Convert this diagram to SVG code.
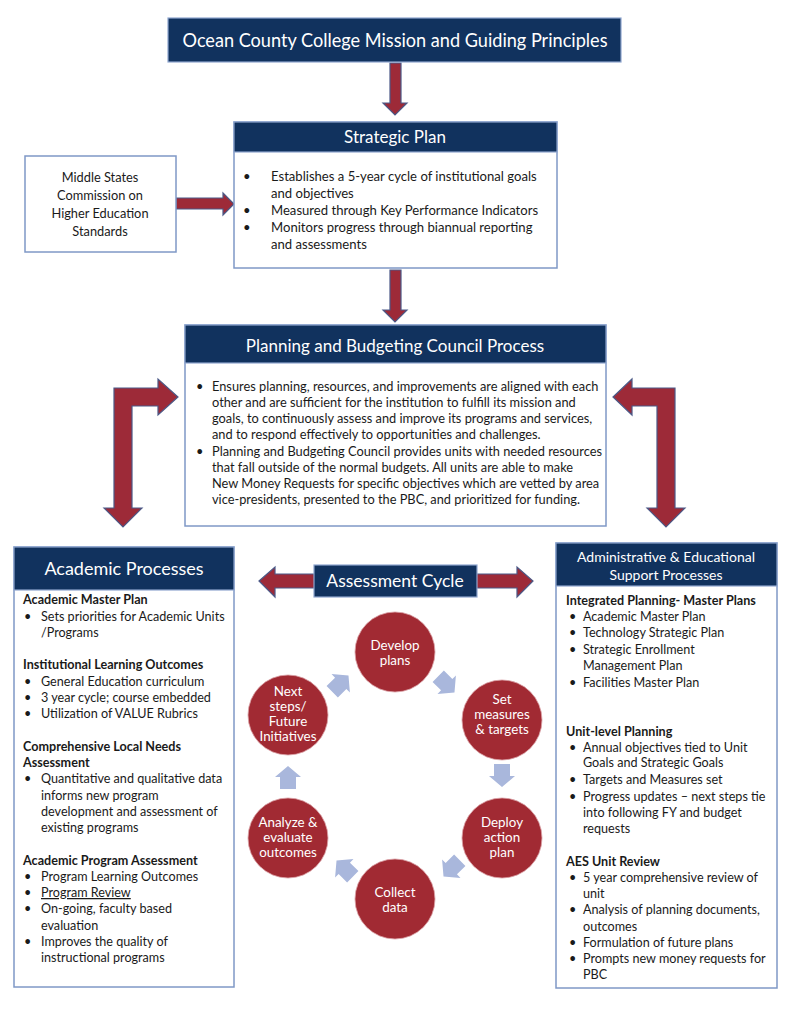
<svg xmlns="http://www.w3.org/2000/svg" width="791" height="1024" viewBox="0 0 791 1024">
<style>
text{font-family:Lato,"Liberation Sans",sans-serif;fill:#1a1a1a}
.hdr{fill:#11325e;stroke:#8fa6cf;stroke-width:1.2}
.box{fill:#fff;stroke:#7f98c6;stroke-width:1.5}
.ttl{fill:#fff;font-size:17px;text-anchor:middle}
.t{font-size:12.6px}
.p{font-size:12.8px}
.b{font-size:12.6px;font-weight:bold}
.sp{font-size:13.1px}
.ms{font-size:12.8px}
.ct{fill:#fff;font-size:13.4px;text-anchor:middle}
.red{fill:#9d2a38;stroke:#4b5987;stroke-width:1.2}
.circ{fill:#a12a33;stroke:#d9a0a4;stroke-width:0.8}
.blu{fill:#a9b7dc}
</style>
<defs>
<path id="sa" d="M0,-12 L13,-1 L8,-1 L8,11 L-8,11 L-8,-1 L-13,-1 Z"/>
</defs>

<g id="connectors">
<path class="red" d="M390,63 L401,63 L401,103 L407,103 L395,115 L383,103 L390,103 Z"/>
<path class="red" d="M176,198 L223,198 L223,193 L234,204 L223,215 L223,209 L176,209 Z"/>
<path class="red" d="M390,270 L401,270 L401,310 L407,310 L395,322 L383,310 L390,310 Z"/>
<path class="red" d="M114,388 L158,388 L158,379 L178,397 L158,415 L158,406 L132,406 L132,508 L142,508 L123,527 L104,508 L114,508 Z"/>
<path class="red" d="M675,388 L632,388 L632,379 L613,397 L632,415 L632,406 L657,406 L657,508 L647,508 L666,527 L685,508 L675,508 Z"/>
<path class="red" d="M259,581 L275,567 L275,574 L517,574 L517,567 L533,581 L517,597 L517,588 L275,588 L275,597 Z"/>
<use href="#sa" class="blu" transform="translate(340,684) rotate(45)"/>
<use href="#sa" class="blu" transform="translate(446,684) rotate(135)"/>
<use href="#sa" class="blu" transform="translate(502,775) rotate(180)"/>
<use href="#sa" class="blu" transform="translate(452,868) rotate(225)"/>
<use href="#sa" class="blu" transform="translate(345,869) rotate(315)"/>
<use href="#sa" class="blu" transform="translate(288,778)"/>
</g>

<g id="mission">
<rect class="hdr" x="168" y="18" width="453" height="44"/>
<text class="ttl" x="395" y="47" style="font-size:18.5px" textLength="425" lengthAdjust="spacingAndGlyphs">Ocean County College Mission and Guiding Principles</text>
</g>

<g id="middle-states">
<rect class="box" x="25" y="156" width="151" height="96"/>
<text class="ms" x="100" y="182" text-anchor="middle">Middle States</text>
<text class="ms" x="100" y="200" text-anchor="middle">Commission on</text>
<text class="ms" x="100" y="218" text-anchor="middle">Higher Education</text>
<text class="ms" x="100" y="236" text-anchor="middle">Standards</text>
</g>

<g id="strategic-plan">
<rect class="box" x="234" y="122" width="323" height="146"/>
<rect class="hdr" x="234" y="122" width="323" height="30"/>
<text class="ttl" x="395" y="143">Strategic Plan</text>
<text class="sp" x="243" y="181">•</text>
<text class="sp" x="271" y="181">Establishes a 5-year cycle of institutional goals</text>
<text class="sp" x="271" y="198">and objectives</text>
<text class="sp" x="243" y="215">•</text>
<text class="sp" x="271" y="215">Measured through Key Performance Indicators</text>
<text class="sp" x="243" y="232">•</text>
<text class="sp" x="271" y="232">Monitors progress through biannual reporting</text>
<text class="sp" x="271" y="249">and assessments</text>
</g>

<g id="pbc">
<rect class="box" x="185" y="325" width="421" height="201"/>
<rect class="hdr" x="185" y="325" width="421" height="38"/>
<text class="ttl" x="395" y="352">Planning and Budgeting Council Process</text>
<text class="p" x="196" y="391">•</text>
<text class="p" x="212" y="391">Ensures planning, resources, and improvements are aligned with each</text>
<text class="p" x="212" y="407">other and are sufficient for the institution to fulfill its mission and</text>
<text class="p" x="212" y="423">goals, to continuously assess and improve its programs and services,</text>
<text class="p" x="212" y="439">and to respond effectively to opportunities and challenges.</text>
<text class="p" x="196" y="456">•</text>
<text class="p" x="212" y="456">Planning and Budgeting Council provides units with needed resources</text>
<text class="p" x="212" y="472">that fall outside of the normal budgets. All units are able to make</text>
<text class="p" x="212" y="488">New Money Requests for specific objectives which are vetted by area</text>
<text class="p" x="212" y="504">vice-presidents, presented to the PBC, and prioritized for funding.</text>
</g>

<g id="academic">
<rect class="box" x="14" y="547" width="220" height="440"/>
<rect class="hdr" x="14" y="547" width="220" height="43"/>
<text class="ttl" x="124" y="575" style="font-size:18px">Academic Processes</text>
<text class="b" x="23" y="604">Academic Master Plan</text>
<text class="t" x="24" y="621">•</text><text class="t" x="41" y="621">Sets priorities for Academic Units</text>
<text class="t" x="41" y="637">/Programs</text>
<text class="b" x="23" y="669">Institutional Learning Outcomes</text>
<text class="t" x="24" y="686">•</text><text class="t" x="41" y="686">General Education curriculum</text>
<text class="t" x="24" y="702">•</text><text class="t" x="41" y="702">3 year cycle; course embedded</text>
<text class="t" x="24" y="718">•</text><text class="t" x="41" y="718">Utilization of VALUE Rubrics</text>
<text class="b" x="23" y="751">Comprehensive Local Needs</text>
<text class="b" x="23" y="767">Assessment</text>
<text class="t" x="24" y="783">•</text><text class="t" x="41" y="783">Quantitative and qualitative data</text>
<text class="t" x="41" y="800">informs new program</text>
<text class="t" x="41" y="816">development and assessment of</text>
<text class="t" x="41" y="832">existing programs</text>
<text class="b" x="23" y="865">Academic Program Assessment</text>
<text class="t" x="24" y="881">•</text><text class="t" x="41" y="881">Program Learning Outcomes</text>
<text class="t" x="24" y="897">•</text><text class="t" x="41" y="897" text-decoration="underline">Program Review</text>
<text class="t" x="24" y="913">•</text><text class="t" x="41" y="913">On-going, faculty based</text>
<text class="t" x="41" y="930">evaluation</text>
<text class="t" x="24" y="946">•</text><text class="t" x="41" y="946">Improves the quality of</text>
<text class="t" x="41" y="962">instructional programs</text>
</g>

<g id="aes">
<rect class="box" x="556" y="543" width="221" height="445"/>
<rect class="hdr" x="556" y="543" width="221" height="43"/>
<text class="ttl" x="666" y="562" style="font-size:14px">Administrative &amp; Educational</text>
<text class="ttl" x="666" y="580" style="font-size:14px">Support Processes</text>
<text class="b" x="566" y="605">Integrated Planning- Master Plans</text>
<text class="t" x="569" y="621">•</text><text class="t" x="583" y="621">Academic Master Plan</text>
<text class="t" x="569" y="637">•</text><text class="t" x="583" y="637">Technology Strategic Plan</text>
<text class="t" x="569" y="654">•</text><text class="t" x="583" y="654">Strategic Enrollment</text>
<text class="t" x="583" y="670">Management Plan</text>
<text class="t" x="569" y="687">•</text><text class="t" x="583" y="687">Facilities Master Plan</text>
<text class="b" x="566" y="736">Unit-level Planning</text>
<text class="t" x="569" y="752">•</text><text class="t" x="583" y="752">Annual objectives tied to Unit</text>
<text class="t" x="583" y="767">Goals and Strategic Goals</text>
<text class="t" x="569" y="784">•</text><text class="t" x="583" y="784">Targets and Measures set</text>
<text class="t" x="569" y="801">•</text><text class="t" x="583" y="801">Progress updates – next steps tie</text>
<text class="t" x="583" y="817">into following FY and budget</text>
<text class="t" x="583" y="833">requests</text>
<text class="b" x="566" y="866">AES Unit Review</text>
<text class="t" x="569" y="882">•</text><text class="t" x="583" y="882">5 year comprehensive review of</text>
<text class="t" x="583" y="898">unit</text>
<text class="t" x="569" y="914">•</text><text class="t" x="583" y="914">Analysis of planning documents,</text>
<text class="t" x="583" y="931">outcomes</text>
<text class="t" x="569" y="947">•</text><text class="t" x="583" y="947">Formulation of future plans</text>
<text class="t" x="569" y="963">•</text><text class="t" x="583" y="963">Prompts new money requests for</text>
<text class="t" x="583" y="979">PBC</text>
</g>

<g id="assessment-cycle">
<rect class="hdr" x="314" y="565" width="163" height="32"/>
<text class="ttl" x="395" y="587" style="font-size:17.5px">Assessment Cycle</text>
</g>

<g id="develop">
<circle class="circ" cx="395" cy="652" r="40"/>
<text class="ct" x="395" y="650">Develop</text>
<text class="ct" x="395" y="665">plans</text>
</g>
<g id="set">
<circle class="circ" cx="502" cy="720" r="40"/>
<text class="ct" x="502" y="704">Set</text>
<text class="ct" x="502" y="719">measures</text>
<text class="ct" x="502" y="734">&amp; targets</text>
</g>
<g id="deploy">
<circle class="circ" cx="502" cy="838" r="40"/>
<text class="ct" x="502" y="827">Deploy</text>
<text class="ct" x="502" y="842">action</text>
<text class="ct" x="502" y="857">plan</text>
</g>
<g id="collect">
<circle class="circ" cx="395" cy="899" r="40"/>
<text class="ct" x="395" y="897">Collect</text>
<text class="ct" x="395" y="912">data</text>
</g>
<g id="analyze">
<circle class="circ" cx="288" cy="838" r="40"/>
<text class="ct" x="288" y="827">Analyze &amp;</text>
<text class="ct" x="288" y="842">evaluate</text>
<text class="ct" x="288" y="857">outcomes</text>
</g>
<g id="next">
<circle class="circ" cx="288" cy="715" r="40"/>
<text class="ct" x="288" y="696">Next</text>
<text class="ct" x="288" y="711">steps/</text>
<text class="ct" x="288" y="726">Future</text>
<text class="ct" x="288" y="741">Initiatives</text>
</g>
</svg>
